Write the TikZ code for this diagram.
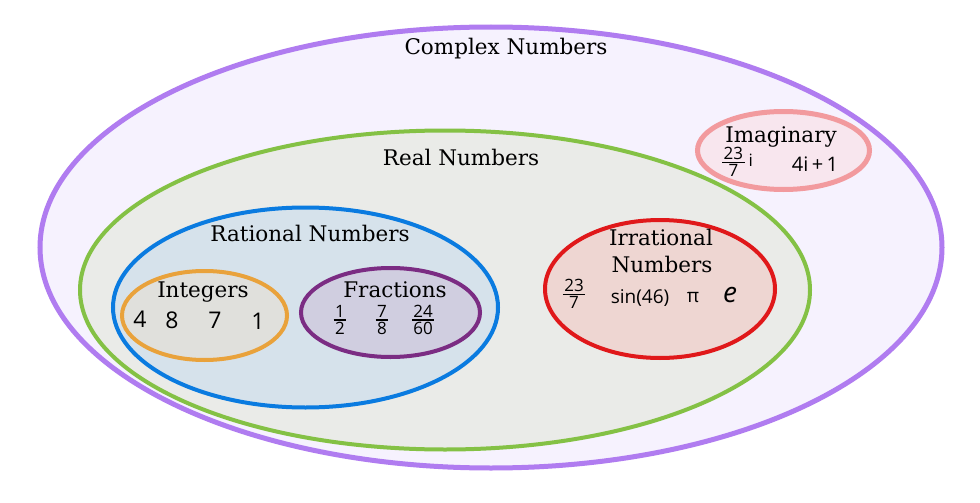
\documentclass[tikz,border=0pt]{standalone}
\usepackage{fontspec}
\setmainfont{DejaVu Serif}
\newfontfamily\hw{Open Sans}
\definecolor{cpxL}{HTML}{B07CF0}
\definecolor{cpxF}{HTML}{F6F2FE}
\definecolor{realL}{HTML}{84C145}
\definecolor{realF}{HTML}{EAEBE8}
\definecolor{ratL}{HTML}{0A7BE0}
\definecolor{ratF}{HTML}{D6E2EB}
\definecolor{intL}{HTML}{E9A23B}
\definecolor{intF}{HTML}{E0E0DC}
\definecolor{fraL}{HTML}{7B2C83}
\definecolor{fraF}{HTML}{D0CEE0}
\definecolor{irrL}{HTML}{E0181A}
\definecolor{irrF}{HTML}{EED6D2}
\definecolor{imgL}{HTML}{F29A9E}
\definecolor{imgF}{HTML}{F8E6EE}
\newcommand\hfr[2]{${\hbox{\kern1.5pt#1\kern1.5pt}\above 1.4pt\hbox{\kern1.5pt#2\kern1.5pt}}$}
\begin{document}
\begin{tikzpicture}[x=1pt,y=-1pt,
  lbl/.style={font=\fontsize{21.5}{23}\selectfont, anchor=base, inner sep=0pt},
  hand/.style={font=\hw\fontsize{23}{24}\selectfont, inner sep=0pt},
  fracn/.style={font=\hw\fontsize{17}{17}\selectfont, inner sep=0pt}]
\useasboundingbox (0,0) rectangle (980,503);
\fill[white] (0,0) rectangle (980,503);
% sets
\draw[cpxL, fill=cpxF, line width=5pt] (491,247.5) ellipse [x radius=451pt, y radius=220.5pt];
\draw[realL, fill=realF, line width=4pt] (445,290) ellipse [x radius=365pt, y radius=159.5pt];
\draw[ratL, fill=ratF, line width=4pt] (305.5,307.5) ellipse [x radius=192.5pt, y radius=100pt];
\draw[intL, fill=intF, line width=4pt] (204.5,315.5) ellipse [x radius=82.5pt, y radius=44.5pt];
\draw[fraL, fill=fraF, line width=4pt] (390.5,312.5) ellipse [x radius=89.5pt, y radius=44.5pt];
\draw[irrL, fill=irrF, line width=4pt] (660,289) ellipse [x radius=115pt, y radius=69pt];
\draw[imgL, fill=imgF, line width=5pt] (783.5,150.5) ellipse [x radius=86pt, y radius=39pt];
% labels
\node[lbl] (tcpx) at (506,55) {Complex Numbers};
\node[lbl] (treal) at (461,165) {Real Numbers};
\node[lbl] (trat) at (310,241) {Rational Numbers};
\node[lbl] (tint) at (203,297) {Integers};
\node[lbl] (tfra) at (395,297) {Fractions};
\node[lbl] (tirr1) at (661,245) {Irrational};
\node[lbl] (tirr2) at (662,272) {Numbers};
\node[lbl] (timg) at (781,142) {Imaginary};
% integers
\node[hand] (i4) at (140,319) {4};
\node[hand] (i8) at (172,320) {8};
\node[hand] (i7) at (215,320) {7};
\node[hand] (i1) at (258,321) {1};
% fractions
\node[fracn] (f1) at (340,320) {\hfr{1}{2}};
\node[fracn] (f2) at (382,320) {\hfr{7}{8}};
\node[fracn] (f3) at (423,320) {\hfr{24}{60}};
% irrationals
\node[fracn] (r1) at (574,294) {\hfr{23}{7}};
\node[hand, font=\hw\fontsize{19}{20}\selectfont] (r2) at (640,298) {sin(46)};
\node[hand, font=\hw\fontsize{19}{20}\selectfont] (r3) at (693,298) {π};
\node[hand, font=\hw\itshape\fontsize{28}{28}\selectfont] (r4) at (730,295) {e};
% imaginary
\node[fracn] (m1) at (737,162) {\hfr{23}{7}\,i};
\node[hand, font=\hw\fontsize{20}{21}\selectfont] (m2) at (815,164) {4i\,+\,1};
\end{tikzpicture}
\end{document}
